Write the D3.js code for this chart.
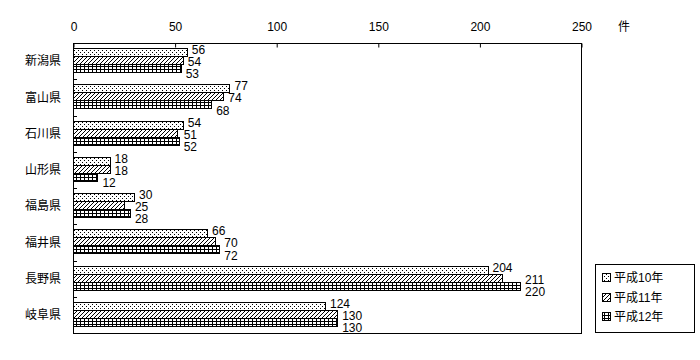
<!DOCTYPE html>
<html>
<head>
<meta charset="utf-8">
<script src="https://cdn.jsdelivr.net/npm/d3@7"></script>
<style>
  body { margin: 0; background: #fff; }
  text { font-family: "Liberation Sans", "Noto Sans CJK JP", sans-serif; font-size: 12px; fill: #000; }
</style>
</head>
<body>
<div id="app"></div>
<script>
const categories = ["新潟県", "富山県", "石川県", "山形県", "福島県", "福井県", "長野県", "岐阜県"];
const seriesNames = ["平成10年", "平成11年", "平成12年"];
const h10 = [56, 77, 54, 18, 30, 66, 204, 124];
const h11 = [54, 74, 51, 18, 25, 70, 211, 130];
const h12 = [53, 68, 52, 12, 28, 72, 220, 130];
const xTicks = [0, 50, 100, 150, 200, 250];
const unitLabel = "件";

const w = 700, h = 360;
const plotLeft = 73, plotRight = 581, plotTop = 43, plotBottom = 333;

const svg = d3.select("#app").append("svg")
    .attr("width", w)
    .attr("height", h);

const defs = svg.append("defs");

// dotted
const p1 = defs.append("pattern").attr("id", "pat0")
    .attr("patternUnits", "userSpaceOnUse").attr("width", 4).attr("height", 4);
p1.append("rect").attr("width", 4).attr("height", 4).attr("fill", "#fff");
p1.append("rect").attr("x", 0).attr("y", 0).attr("width", 1).attr("height", 1).attr("fill", "#000");
p1.append("rect").attr("x", 2).attr("y", 2).attr("width", 1).attr("height", 1).attr("fill", "#000");

// diagonal hatch
const p2 = defs.append("pattern").attr("id", "pat1")
    .attr("patternUnits", "userSpaceOnUse").attr("width", 4).attr("height", 4);
p2.append("rect").attr("width", 4).attr("height", 4).attr("fill", "#fff");
p2.append("path").attr("d", "M-1,1 L1,-1 M0,4 L4,0 M3,5 L5,3")
    .attr("stroke", "#000").attr("stroke-width", 1.1).attr("shape-rendering", "crispEdges");

// grid
const p3 = defs.append("pattern").attr("id", "pat2")
    .attr("patternUnits", "userSpaceOnUse").attr("width", 4).attr("height", 3);
p3.append("rect").attr("width", 4).attr("height", 3).attr("fill", "#fff");
p3.append("rect").attr("x", 0).attr("y", 0).attr("width", 4).attr("height", 1).attr("fill", "#000");
p3.append("rect").attr("x", 0).attr("y", 0).attr("width", 1).attr("height", 3).attr("fill", "#000");

const xScale = d3.scaleLinear().domain([0, 250]).range([plotLeft, plotRight]);
const yScale = d3.scaleBand().domain(categories).range([plotTop, plotBottom]);
const series = [h10, h11, h12];
const barH = 8;
const groupOffset = 5;
const labelStep = 12.2;

// frame
svg.append("rect")
    .attr("x", plotLeft + 0.5).attr("y", plotTop + 0.5)
    .attr("width", plotRight - plotLeft).attr("height", plotBottom - plotTop)
    .attr("fill", "none").attr("stroke", "#000");

// top axis
const xAxis = d3.axisTop(xScale).tickValues(xTicks).tickSize(-4).tickPadding(13);
const gx = svg.append("g").attr("transform", `translate(0.5,${plotTop + 0.5})`).call(xAxis);
gx.select(".domain").remove();
gx.selectAll("line").attr("stroke", "#000");
gx.selectAll("text").attr("font-size", 11).attr("font-family", "Liberation Sans, sans-serif");

svg.append("text").attr("x", 618).attr("y", 31).text(unitLabel);

// left ticks at band boundaries
svg.selectAll(".ytick").data(categories.slice(1)).enter()
    .append("line")
    .attr("x1", plotLeft).attr("x2", plotLeft + 4)
    .attr("y1", d => Math.round(yScale(d)) + 0.5)
    .attr("y2", d => Math.round(yScale(d)) + 0.5)
    .attr("stroke", "#000");

// category labels
svg.selectAll(".cat").data(categories).enter()
    .append("text")
    .attr("x", 61)
    .attr("y", d => yScale(d) + yScale.bandwidth() / 2)
    .attr("dy", "0.35em")
    .attr("text-anchor", "end")
    .text(d => d);

// bars
series.forEach((vals, si) => {
    svg.append("g").selectAll("rect").data(vals).enter()
        .append("rect")
        .attr("x", plotLeft + 0.5)
        .attr("y", (d, i) => Math.round(yScale(categories[i])) + groupOffset + si * barH + 0.5)
        .attr("width", d => xScale(d) - plotLeft)
        .attr("height", barH)
        .attr("fill", `url(#pat${si})`)
        .attr("stroke", "#000")
        .attr("shape-rendering", "crispEdges");
});

// value labels; the middle one sits beside the third bar, so keep it past that bar too
series.forEach((vals, si) => {
    svg.append("g").selectAll("text").data(vals).enter()
        .append("text")
        .attr("x", (d, i) => xScale(si === 1 ? Math.max(d, h12[i]) : d) + 5)
        .attr("y", (d, i) => yScale(categories[i]) + groupOffset + 12 + 2 + (si - 1) * labelStep)
        .attr("dy", "0.35em")
        .attr("font-size", 10.5)
        .text(d => d);
});

// legend
const lg = svg.append("g");
lg.append("rect").attr("x", 595.5).attr("y", 264.5).attr("width", 99).attr("height", 68)
    .attr("fill", "#fff").attr("stroke", "#000");
seriesNames.forEach((name, i) => {
    const cy = 278 + i * 19.5;
    lg.append("rect").attr("x", 602.5).attr("y", cy - 4.5).attr("width", 8).attr("height", 8)
        .attr("fill", `url(#pat${i})`).attr("stroke", "#000").attr("shape-rendering", "crispEdges");
    lg.append("text").attr("x", 614).attr("y", cy).attr("dy", "0.35em").text(name);
});
</script>
</body>
</html>
